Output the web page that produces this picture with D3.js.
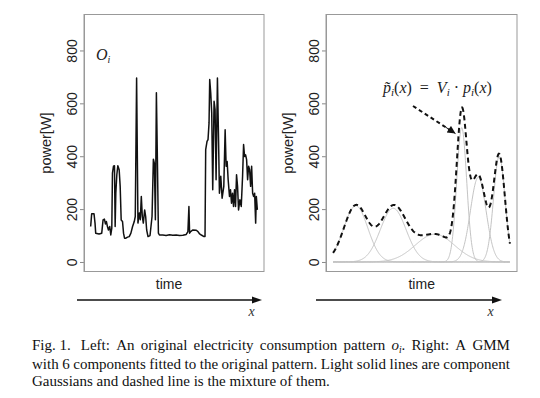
<!DOCTYPE html>
<html><head><meta charset="utf-8">
<script src="https://cdn.jsdelivr.net/npm/d3@7"></script>
<style>
body{margin:0;background:#fff;}
#cap{position:absolute;left:32px;top:337px;width:478px;font-family:"Liberation Serif","Times New Roman",serif;font-size:15px;line-height:17.2px;color:#111;}
.ln{display:flex;justify-content:space-between;white-space:nowrap;}
.last{white-space:nowrap;}
.sb{font-size:9.5px;position:relative;top:3px;}
</style></head><body>
<svg id="c" width="540" height="398" style="position:absolute;left:0;top:0"></svg>
<div id="cap"></div>
<script>
// ---- data: original consumption pattern (time index, power in W) ----
const timeLeft = [0,3,10,13,15,25,33,37,41,44,47,50,53,57,60,63,65,68,71,73,75,78,81,85,88,91,95,98,101,105,110,115,120,125,130,133,137,141,145,148,151,154,157,161,164,167,171,177,183,187,190,193,196,199,202,205,215,225,235,245,255,265,275,285,290,293,295,298,305,315,320,325,330,338,341,343,347,350,353,355,358,361,364,368,371,374,378,381,384,388,392,397,401,404,407,410,414,417,420,423,426,429,432,435,438,441,445,449,453,456,459,462,465,468,471,474,477,480,483,486,489,492,494,497];
const powerLeft = [134,182,182,147,109,106,109,159,162,144,153,134,121,134,102,128,336,362,364,134,260,330,364,349,286,159,153,109,90,90,94,96,109,134,153,172,696,147,185,160,248,172,147,197,172,121,96,100,172,389,373,160,640,387,109,102,102,100,103,101,102,100,101,104,115,210,109,115,121,120,115,106,102,96,96,425,456,463,526,690,640,564,273,608,576,311,696,488,260,324,241,286,500,362,380,311,248,273,222,260,210,273,210,330,286,197,235,210,324,444,399,405,387,311,362,349,286,362,260,248,260,147,248,197];
// ---- data: GMM with 6 components (mean time, sd, peak height W) ----
const compMeans   = [64, 169, 286, 361.5, 408, 467];
const compSds     = [33.5, 36, 55, 14, 22, 16];
const compHeights = [213, 203, 105, 508, 320, 400];
const yTicks = [0, 200, 400, 600, 800];
const tMax = 497;

const svg = d3.select("#c");
const sans = "'Liberation Sans', Arial, Helvetica, sans-serif";
const serif = "'Liberation Serif', 'Times New Roman', serif";

const y = d3.scaleLinear().domain([-36, 936]).range([271.5, 14.5]);
const xDom = [-0.04*tMax, tMax*1.04];
const xL = d3.scaleLinear().domain(xDom).range([84, 264]);
const xR = d3.scaleLinear().domain(xDom).range([326, 517]);

function panel(x0, x1, tickLabelOff, ylabX, timeX) {
  const g = svg.append("g");
  const ax = g.append("g").attr("transform", `translate(${x0},0)`)
    .call(d3.axisLeft(y).tickValues(yTicks).tickSize(4).tickSizeOuter(0));
  ax.select(".domain").attr("stroke", "#999");
  ax.selectAll(".tick line").attr("stroke", "#888");
  ax.selectAll(".tick text").attr("transform", "rotate(-90)")
    .attr("x", 0).attr("y", -tickLabelOff).attr("dy", 0)
    .attr("text-anchor", "middle").attr("fill", "#222")
    .style("font-family", sans).style("font-size", "14px");
  g.append("rect").attr("x", x0).attr("y", y.range()[1]).attr("width", x1 - x0)
    .attr("height", y.range()[0] - y.range()[1]).attr("fill", "none").attr("stroke", "#999").attr("stroke-width", 1);
  g.append("text").attr("transform", `translate(${ylabX},${(y.range()[0]+y.range()[1])/2}) rotate(-90)`)
    .attr("text-anchor", "middle").style("font-family", sans).style("font-size", "14.5px").attr("fill", "#222")
    .text("power[W]");
  g.append("text").attr("x", timeX).attr("y", 289).attr("text-anchor", "middle")
    .style("font-family", sans).style("font-size", "14px").attr("fill", "#222").text("time");
  return g;
}

const gl = panel(84, 264, 7, 51, 169);
const gr = panel(326, 517, 7.5, 293, 421.7);

// left series
const leftData = timeLeft.map((t, i) => [t, powerLeft[i]]);
gl.append("path").datum(leftData)
  .attr("d", d3.line().x(d => xL(d[0])).y(d => y(d[1])))
  .attr("fill", "none").attr("stroke", "#111").attr("stroke-width", 1.5).attr("stroke-linejoin", "round");

const ol = gl.append("text").attr("x", 96).attr("y", 60).style("font-family", serif).attr("fill", "#222");
ol.append("tspan").style("font-style", "italic").style("font-size", "16px").text("O");
ol.append("tspan").style("font-style", "italic").style("font-size", "10px").attr("dy", 3).text("i");

// right: GMM components
const ts = d3.range(0, tMax + 0.5, 1);
const gauss = (t, k) => compHeights[k] * Math.exp(-0.5 * Math.pow((t - compMeans[k]) / compSds[k], 2));
compMeans.forEach((m, k) => {
  gr.append("path").datum(ts)
    .attr("d", d3.line().x(t => xR(t)).y(t => y(gauss(t, k))))
    .attr("fill", "none").attr("stroke", "#c4c4c4").attr("stroke-width", 1);
});
gr.append("path").datum(ts)
  .attr("d", d3.line().x(t => xR(t)).y(t => y(d3.sum(compMeans, (m, k) => gauss(t, k)))))
  .attr("fill", "none").attr("stroke", "#111").attr("stroke-width", 2).attr("stroke-dasharray", "5,3.5");

// formula annotation
const f = gr.append("text").attr("x", 383).attr("y", 93).style("font-family", serif).style("font-size", "16px").attr("fill", "#222");
const it = (s) => f.append("tspan").style("font-style", "italic").text(s);
const up = (s) => f.append("tspan").text(s);
const sub = (s) => { f.append("tspan").style("font-style", "italic").style("font-size", "11px").attr("dy", 3).text(s); };
it("p\u0303"); sub("i"); f.append("tspan").attr("dy", -3).text("("); it("x"); up(")\u2002=\u2002"); it("V"); sub("i");
f.append("tspan").attr("dy", -3).text(" \u00b7 "); it("p"); sub("i"); f.append("tspan").attr("dy", -3).text("("); it("x"); up(")");

svg.append("defs").append("marker").attr("id", "ah").attr("viewBox", "0 0 10 10").attr("refX", 10).attr("refY", 5)
  .attr("markerWidth", 10).attr("markerHeight", 8).attr("markerUnits", "userSpaceOnUse").attr("orient", "auto")
  .append("path").attr("d", "M0,0L10,5L0,10Z").attr("fill", "#111");
gr.append("line").attr("x1", 413).attr("y1", 106).attr("x2", 450).attr("y2", 130)
  .attr("stroke", "#111").attr("stroke-width", 2).attr("stroke-dasharray", "4,3");
gr.append("line").attr("x1", 446).attr("y1", 127.4).attr("x2", 455.5).attr("y2", 133.6)
  .attr("stroke", "#111").attr("stroke-width", 1).attr("marker-end", "url(#ah)");

// bottom arrows with x labels
[[77, 262, 248.5], [316, 502, 487.5]].forEach(([a, b, lx]) => {
  svg.append("line").attr("x1", a).attr("y1", 300).attr("x2", b - 8).attr("y2", 300)
    .attr("stroke", "#111").attr("stroke-width", 1.6);
  svg.append("path").attr("d", `M${b},300L${b-10},296.6L${b-10},303.4Z`).attr("fill", "#111");
  svg.append("text").attr("x", lx).attr("y", 316).style("font-family", serif).style("font-style", "italic")
    .style("font-size", "14px").attr("fill", "#333").text("x");
});

// caption
const cap = d3.select("#cap");
const l1 = cap.append("div").attr("class", "ln");
["Fig.&nbsp;1.&nbsp;", "Left:", "An", "original", "electricity", "consumption", "pattern", "<i>o</i><span class='sb'><i>i</i></span>.", "Right:", "A", "GMM"]
  .forEach(w => l1.append("span").html(w));
const l2 = cap.append("div").attr("class", "ln");
"with 6 components fitted to the original pattern. Light solid lines are component".split(" ")
  .forEach(w => l2.append("span").text(w));
cap.append("div").attr("class", "last").text("Gaussians and dashed line is the mixture of them.");
</script>
</body></html>
